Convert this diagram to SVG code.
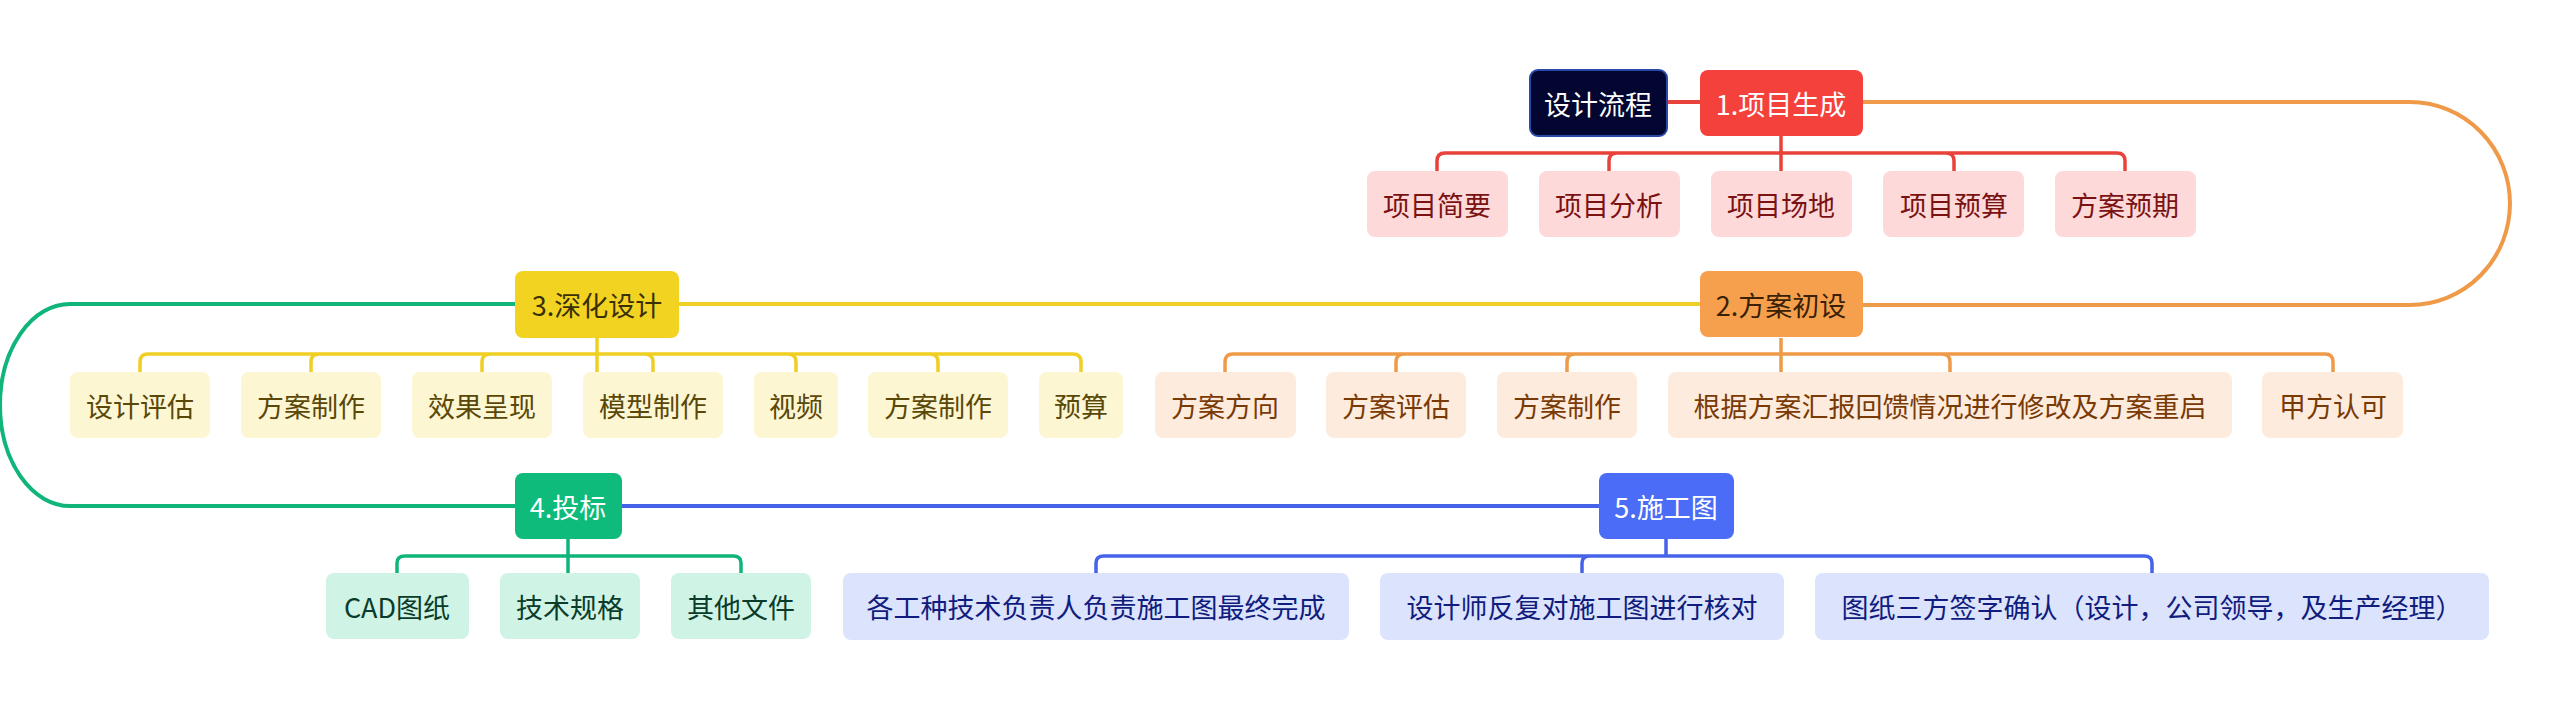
<svg xmlns="http://www.w3.org/2000/svg" width="2560" height="710" viewBox="0 0 2560 710">
<style>
text{font-family:"Noto Sans CJK SC","Liberation Sans",sans-serif;font-size:27px;text-anchor:middle;dominant-baseline:central}
.c{fill:none;stroke-width:4;stroke-linecap:round;stroke-linejoin:round}
.b{fill:none;stroke-width:3.5}
.red{stroke:#e8423b}.ora{stroke:#ef9a48}.yel{stroke:#efcf24}.grn{stroke:#10b57a}.blu{stroke:#4563e8}
.k1 rect{fill:#fdd9d9}.k1 text{fill:#7a1212}
.k2 rect{fill:#fdecdd}.k2 text{fill:#7a3a06}
.k3 rect{fill:#fdf6d3}.k3 text{fill:#5a4808}
.k4 rect{fill:#cff3e4}.k4 text{fill:#0b3b2a}
.k5 rect{fill:#dce3fc}.k5 text{fill:#101c7e}
</style>
<g id="connectors">
<path class="c red" d="M1667 102H1700"/>
<path class="c ora" d="M1863 102H2410A100 101.5 0 0 1 2410 305H1863"/>
<path class="c yel" d="M679 304H1700"/>
<path class="c grn" d="M515 304H70A70 101 0 0 0 70 506H515"/>
<path class="c blu" d="M622 506H1599"/>
<path class="b red" d="M1781 136V171M1437 171V161Q1437 153 1445 153H1946Q1954 153 1954 161V171M1609 171V161Q1609 153 1617 153M2125 171V161Q2125 153 2117 153H1946M1954 171"/>
<path class="b ora" d="M1781 338V372M1225 372V362Q1225 354 1233 354H2325Q2333 354 2333 362V372M1396 372V362Q1396 354 1404 354M1567 372V362Q1567 354 1575 354M1950 372V362Q1950 354 1942 354"/>
<path class="b yel" d="M597 338V372M140 372V362Q140 354 148 354H1073Q1081 354 1081 362V372M311 372V362Q311 354 319 354M482 372V362Q482 354 490 354M653 372V362Q653 354 645 354M796 372V362Q796 354 788 354M938 372V362Q938 354 930 354"/>
<path class="b grn" d="M568 539V573M397 573V563Q397 556 405 556H733Q741 556 741 563V573"/>
<path class="b blu" d="M1666 539V556M1096 573V563Q1096 556 1104 556H2144Q2152 556 2152 563V573M1582 573V563Q1582 556 1590 556"/>
</g>
<g id="root"><rect x="1530" y="70" width="137" height="66" rx="8" fill="#020630" stroke="#2a4aa8" stroke-width="2"/><text x="1598" y="103" fill="#fff">设计流程</text></g>
<g id="n1"><rect x="1700" y="70" width="163" height="66" rx="8" fill="#f5413b"/><text x="1781" y="103" fill="#fff">1.项目生成</text></g>
<g id="n2"><rect x="1700" y="271" width="163" height="66" rx="8" fill="#f6a04d"/><text x="1781" y="304" fill="#3a2005">2.方案初设</text></g>
<g id="n3"><rect x="515" y="271" width="164" height="67" rx="8" fill="#f3d322"/><text x="597" y="304" fill="#3a3005">3.深化设计</text></g>
<g id="n4"><rect x="515" y="473" width="107" height="66" rx="8" fill="#0ebb7a"/><text x="568" y="506" fill="#fff">4.投标</text></g>
<g id="n5"><rect x="1599" y="473" width="135" height="66" rx="8" fill="#4a6cf7"/><text x="1666" y="506" fill="#fff">5.施工图</text></g>
<g id="c1" class="k1">
<g id="c1a"><rect x="1367" y="171" width="141" height="66" rx="8"/><text x="1437" y="204">项目简要</text></g>
<g id="c1b"><rect x="1539" y="171" width="141" height="66" rx="8"/><text x="1609" y="204">项目分析</text></g>
<g id="c1c"><rect x="1711" y="171" width="141" height="66" rx="8"/><text x="1781" y="204">项目场地</text></g>
<g id="c1d"><rect x="1883" y="171" width="141" height="66" rx="8"/><text x="1954" y="204">项目预算</text></g>
<g id="c1e"><rect x="2055" y="171" width="141" height="66" rx="8"/><text x="2125" y="204">方案预期</text></g>
</g>
<g id="c2" class="k2">
<g id="c2a"><rect x="1155" y="372" width="141" height="66" rx="8"/><text x="1225" y="405">方案方向</text></g>
<g id="c2b"><rect x="1326" y="372" width="140" height="66" rx="8"/><text x="1396" y="405">方案评估</text></g>
<g id="c2c"><rect x="1497" y="372" width="140" height="66" rx="8"/><text x="1567" y="405">方案制作</text></g>
<g id="c2d"><rect x="1668" y="372" width="564" height="66" rx="8"/><text x="1950" y="405">根据方案汇报回馈情况进行修改及方案重启</text></g>
<g id="c2e"><rect x="2262" y="372" width="141" height="66" rx="8"/><text x="2333" y="405">甲方认可</text></g>
</g>
<g id="c3" class="k3">
<g id="c3a"><rect x="70" y="372" width="140" height="66" rx="8"/><text x="140" y="405">设计评估</text></g>
<g id="c3b"><rect x="241" y="372" width="140" height="66" rx="8"/><text x="311" y="405">方案制作</text></g>
<g id="c3c"><rect x="412" y="372" width="140" height="66" rx="8"/><text x="482" y="405">效果呈现</text></g>
<g id="c3d"><rect x="583" y="372" width="140" height="66" rx="8"/><text x="653" y="405">模型制作</text></g>
<g id="c3e"><rect x="754" y="372" width="84" height="66" rx="8"/><text x="796" y="405">视频</text></g>
<g id="c3f"><rect x="868" y="372" width="140" height="66" rx="8"/><text x="938" y="405">方案制作</text></g>
<g id="c3g"><rect x="1039" y="372" width="84" height="66" rx="8"/><text x="1081" y="405">预算</text></g>
</g>
<g id="c4" class="k4">
<g id="c4a"><rect x="326" y="573" width="143" height="66" rx="8"/><text x="397" y="606">CAD图纸</text></g>
<g id="c4b"><rect x="500" y="573" width="140" height="66" rx="8"/><text x="570" y="606">技术规格</text></g>
<g id="c4c"><rect x="671" y="573" width="140" height="66" rx="8"/><text x="741" y="606">其他文件</text></g>
</g>
<g id="c5" class="k5">
<g id="c5a"><rect x="843" y="573" width="506" height="67" rx="8"/><text x="1096" y="606">各工种技术负责人负责施工图最终完成</text></g>
<g id="c5b"><rect x="1380" y="573" width="404" height="67" rx="8"/><text x="1582" y="606">设计师反复对施工图进行核对</text></g>
<g id="c5c"><rect x="1815" y="573" width="674" height="67" rx="8"/><text x="2152" y="606">图纸三方签字确认（设计，公司领导，及生产经理）</text></g>
</g>
</svg>
